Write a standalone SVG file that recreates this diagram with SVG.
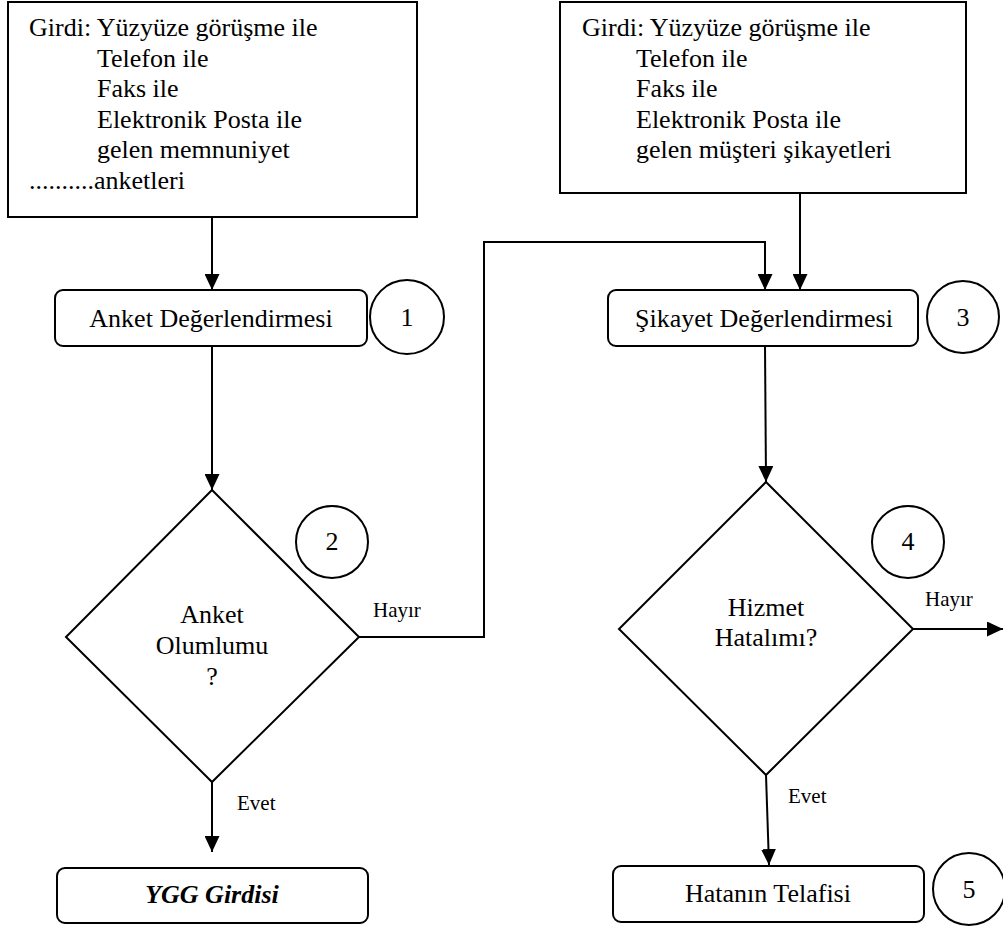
<svg xmlns="http://www.w3.org/2000/svg" width="1003" height="926" viewBox="0 0 1003 926">
<style>
text{font-family:"Liberation Serif","Times New Roman",serif;font-size:26px;fill:#000}
.lbl{font-size:21px}
.c{text-anchor:middle}
.shape{fill:#fff;stroke:#000;stroke-width:2}
.conn{fill:none;stroke:#000;stroke-width:2}
.bi{font-weight:bold;font-style:italic}
</style>
<defs>
<marker id="ah" markerUnits="userSpaceOnUse" markerWidth="16" markerHeight="15" refX="16" refY="7.5" orient="auto">
<path d="M0,0 L16,7.5 L0,15 z" fill="#000"/>
</marker>
</defs>
<rect width="1003" height="926" fill="#fff"/>
<g id="connectors">
<line class="conn" x1="212" y1="217" x2="212" y2="290" marker-end="url(#ah)"/>
<line class="conn" x1="212" y1="346" x2="212" y2="490" marker-end="url(#ah)"/>
<polyline class="conn" points="359,637 484,637 484,242 765,242 765,290" marker-end="url(#ah)"/>
<line class="conn" x1="800" y1="193" x2="800" y2="290" marker-end="url(#ah)"/>
<line class="conn" x1="765" y1="346" x2="766" y2="482" marker-end="url(#ah)"/>
<line class="conn" x1="212" y1="782" x2="212" y2="852" marker-end="url(#ah)"/>
<line class="conn" x1="766" y1="775" x2="769" y2="865" marker-end="url(#ah)"/>
<line class="conn" x1="913" y1="629" x2="1003" y2="629" marker-end="url(#ah)"/>
<text class="lbl" x="373" y="617">Hayır</text>
<text class="lbl" x="237" y="810">Evet</text>
<text class="lbl" x="925" y="606">Hayır</text>
<text class="lbl" x="788" y="803">Evet</text>
</g>
<g id="input1">
<rect class="shape" x="8" y="2" width="409" height="215"/>
<text x="29" y="36">Girdi: Yüzyüze görüşme ile</text>
<text x="97" y="66.5">Telefon ile</text>
<text x="97" y="97">Faks ile</text>
<text x="97" y="127.5">Elektronik Posta ile</text>
<text x="97" y="158">gelen memnuniyet</text>
<text x="29" y="188.5">..........anketleri</text>
</g>
<g id="input2">
<rect class="shape" x="560" y="2" width="406" height="191"/>
<text x="582" y="36">Girdi: Yüzyüze görüşme ile</text>
<text x="636" y="66.5">Telefon ile</text>
<text x="636" y="97">Faks ile</text>
<text x="636" y="127.5">Elektronik Posta ile</text>
<text x="636" y="158">gelen müşteri şikayetleri</text>
</g>
<g id="anket-degerlendirme">
<rect class="shape" x="55" y="290" width="312" height="56" rx="8"/>
<text class="c" x="211" y="327">Anket Değerlendirmesi</text>
</g>
<g id="step1">
<circle class="shape" cx="407" cy="317" r="37"/>
<text class="c" x="407" y="326">1</text>
</g>
<g id="sikayet-degerlendirme">
<rect class="shape" x="608" y="290" width="310" height="56" rx="8"/>
<text class="c" x="764" y="327">Şikayet Değerlendirmesi</text>
</g>
<g id="step3">
<circle class="shape" cx="963" cy="317" r="36"/>
<text class="c" x="963" y="326">3</text>
</g>
<g id="decision1">
<polygon class="shape" points="212,490 359,637 212,782 66,637"/>
<text class="c" x="212" y="623">Anket</text>
<text class="c" x="212" y="654">Olumlumu</text>
<text class="c" x="212" y="685">?</text>
</g>
<g id="step2">
<circle class="shape" cx="332" cy="542" r="36"/>
<text class="c" x="332" y="550">2</text>
</g>
<g id="decision2">
<polygon class="shape" points="766,482 913,629 766,775 619,629"/>
<text class="c" x="766" y="616">Hizmet</text>
<text class="c" x="766" y="646">Hatalımı?</text>
</g>
<g id="step4">
<circle class="shape" cx="908" cy="542" r="36"/>
<text class="c" x="908" y="550">4</text>
</g>
<g id="ygg">
<rect class="shape" x="57" y="868" width="311" height="55" rx="8"/>
<text class="c bi" x="212" y="903">YGG Girdisi</text>
</g>
<g id="telafi">
<rect class="shape" x="613" y="866" width="311" height="56" rx="8"/>
<text class="c" x="768" y="902">Hatanın Telafisi</text>
</g>
<g id="step5">
<circle class="shape" cx="969" cy="889" r="36"/>
<text class="c" x="969" y="898">5</text>
</g>
</svg>
